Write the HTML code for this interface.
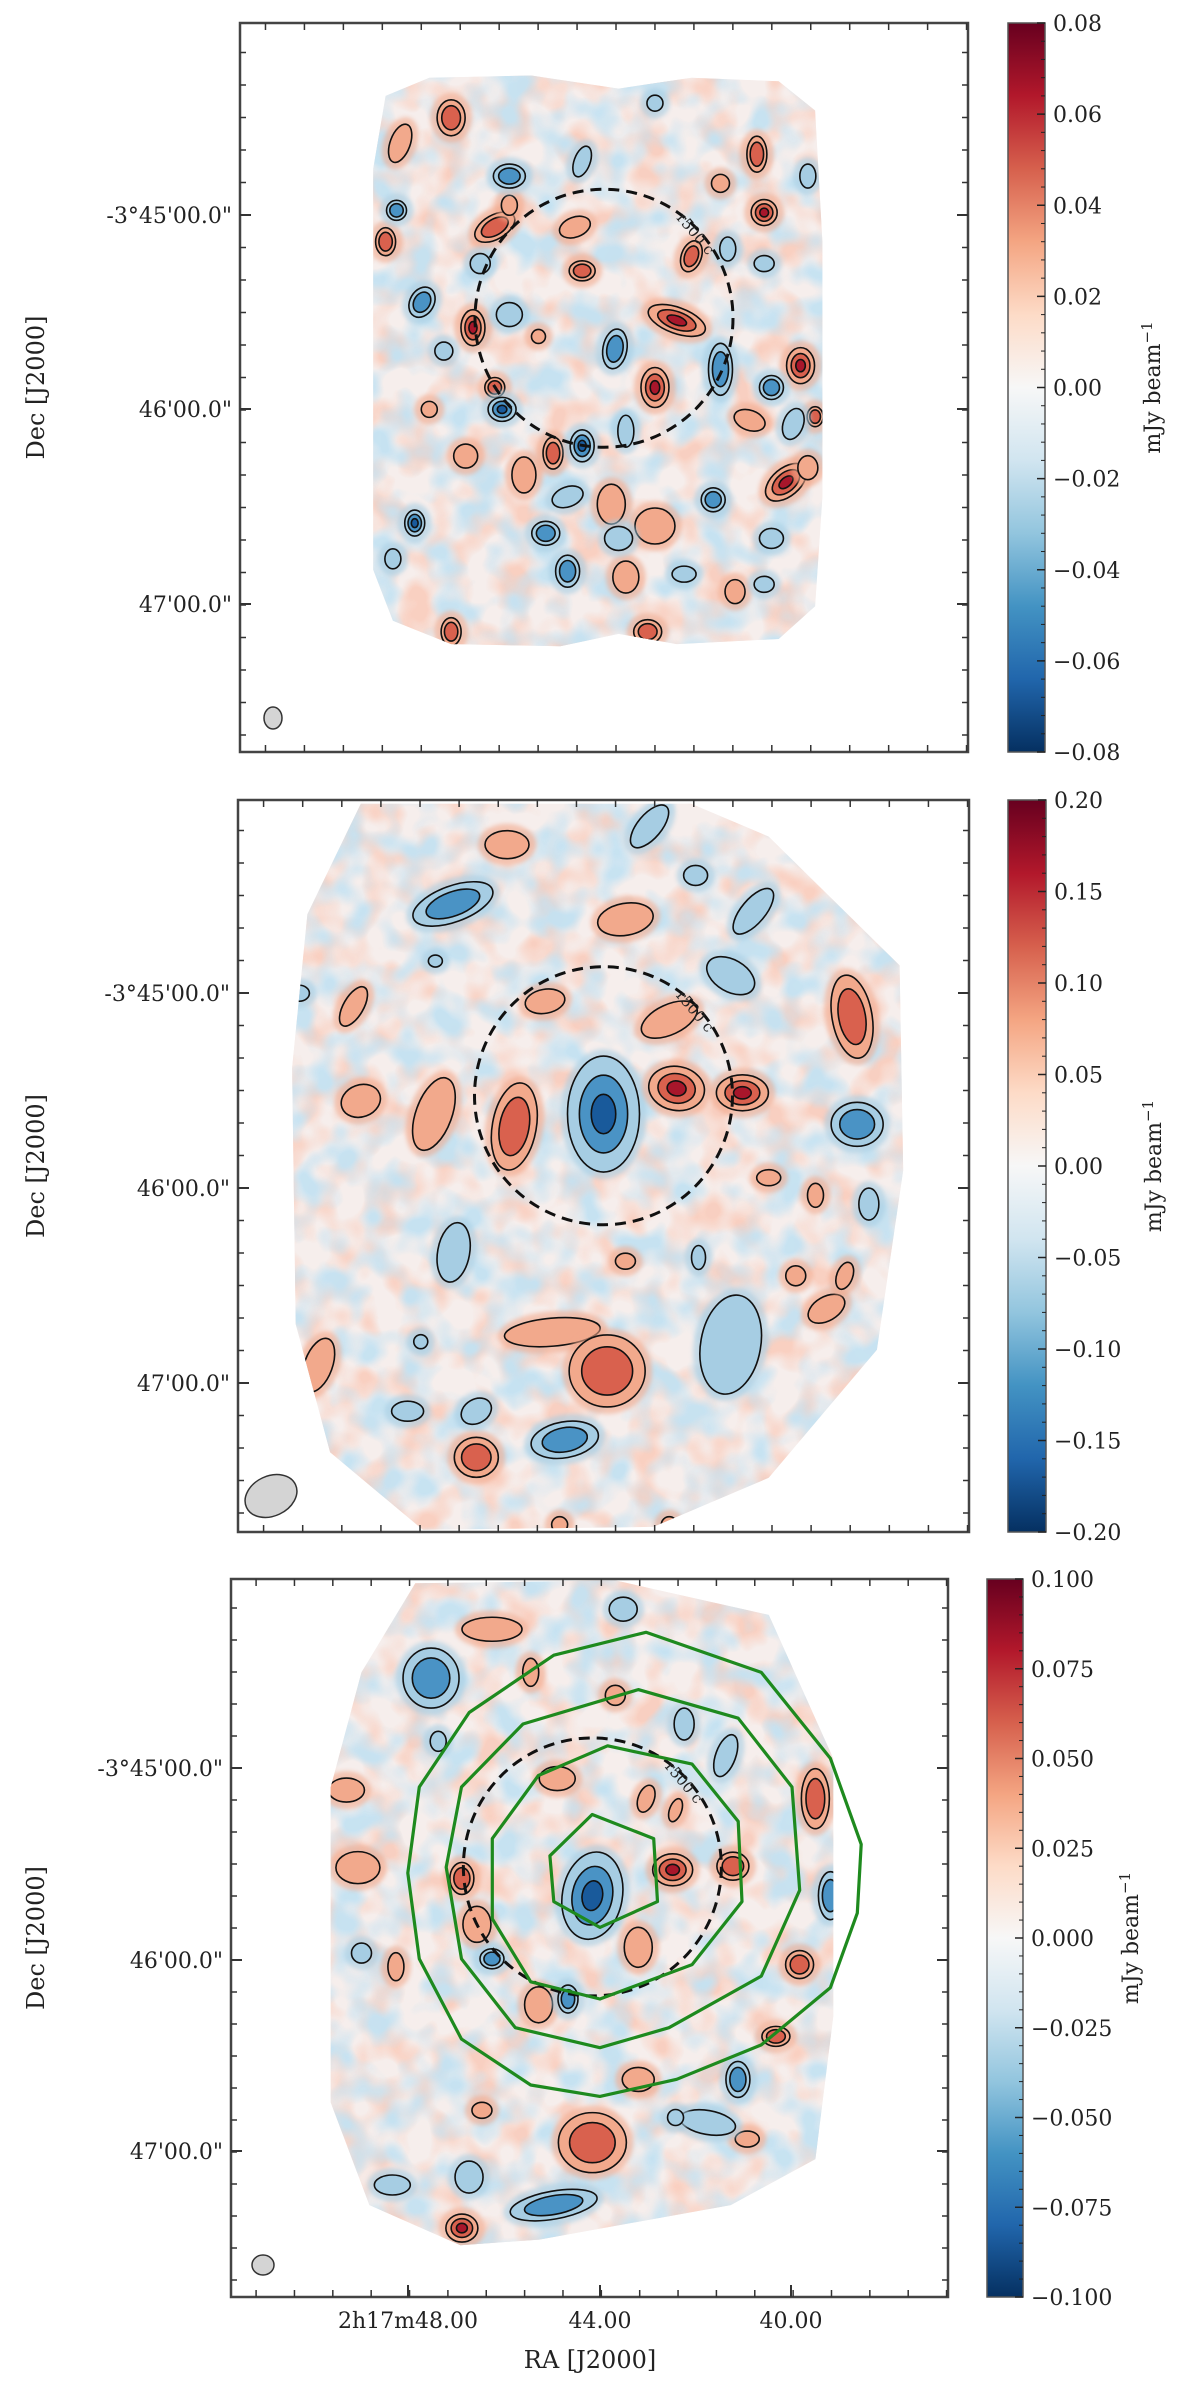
<!DOCTYPE html>
<html><head><meta charset="utf-8"><style>
html,body{margin:0;padding:0;background:#fff;}
svg{display:block;}
text{font-family:"DejaVu Serif","Liberation Serif",serif;fill:#222;}
</style></head><body>
<svg id="fig" width="1200" height="2394" viewBox="0 0 1200 2394" xmlns="http://www.w3.org/2000/svg">
<defs>
<linearGradient id="rdbu" x1="0" y1="1" x2="0" y2="0">
<stop offset="0" stop-color="#053061"/><stop offset="0.1" stop-color="#2166ac"/><stop offset="0.2" stop-color="#4393c3"/><stop offset="0.3" stop-color="#92c5de"/><stop offset="0.4" stop-color="#d1e5f0"/><stop offset="0.5" stop-color="#f7f7f7"/><stop offset="0.6" stop-color="#fddbc7"/><stop offset="0.7" stop-color="#f4a582"/><stop offset="0.8" stop-color="#d6604d"/><stop offset="0.9" stop-color="#b2182b"/><stop offset="1" stop-color="#67001f"/>
</linearGradient>
<filter id="tex1" x="0" y="0" width="100%" height="100%"><feTurbulence type="fractalNoise" baseFrequency="0.03" numOctaves="2" seed="3"/><feColorMatrix type="matrix" values="0 0 0 0 0.95  0 0 0 0 0.62  0 0 0 0 0.52  3.2 0 0 0 -1.35"/></filter>
<filter id="tex2" x="0" y="0" width="100%" height="100%"><feTurbulence type="fractalNoise" baseFrequency="0.03" numOctaves="2" seed="11"/><feColorMatrix type="matrix" values="0 0 0 0 0.55  0 0 0 0 0.76  0 0 0 0 0.89  3.2 0 0 0 -1.35"/></filter>
<filter id="soft"><feGaussianBlur stdDeviation="2"/></filter>
</defs>
</svg>
<script>
// ---- data arrays (fractions of the frame, px radii, rotation deg, contour level) ----
const panel1Blobs = [
[0.60,0.408,30,13,20,3],[0.32,0.418,12,18,0,3],[0.77,0.47,14,18,0,3],[0.57,0.50,14,20,0,3],[0.75,0.63,24,14,-40,3],
[0.72,0.26,13,13,0,3],[0.35,0.28,22,12,-30,2],[0.46,0.28,16,10,-20,1],[0.62,0.32,10,16,20,2],[0.47,0.34,13,10,0,2],
[0.20,0.30,10,14,0,2],[0.22,0.165,10,20,20,1],[0.71,0.18,10,18,0,2],[0.35,0.50,10,10,0,2],[0.43,0.59,10,16,0,2],
[0.39,0.62,12,18,0,1],[0.51,0.66,14,20,0,1],[0.57,0.69,20,18,0,1],[0.53,0.76,13,16,0,1],[0.29,0.835,10,14,0,2],
[0.68,0.78,10,12,0,1],[0.70,0.545,16,10,20,1],[0.79,0.54,8,10,0,2],[0.78,0.61,10,12,0,1],[0.31,0.594,12,12,0,1],
[0.37,0.25,8,10,0,1],[0.56,0.835,14,12,0,2],[0.26,0.53,8,8,0,1],[0.41,0.43,7,7,0,1],[0.66,0.22,9,9,0,1],
[0.29,0.13,14,18,0,2],[0.37,0.21,16,12,0,-2],[0.47,0.19,8,16,20,-1],[0.215,0.257,10,10,0,-2],[0.25,0.383,12,16,30,-2],
[0.37,0.40,13,12,0,-1],[0.515,0.447,12,20,10,-2],[0.66,0.475,12,26,0,-2],[0.73,0.50,12,12,0,-2],[0.36,0.53,14,12,0,-3],
[0.47,0.58,12,16,0,-3],[0.53,0.56,8,16,0,-1],[0.76,0.55,10,16,20,-1],[0.65,0.654,12,12,0,-2],[0.45,0.65,16,10,-20,-1],
[0.24,0.686,10,13,0,-3],[0.42,0.70,14,12,0,-2],[0.52,0.707,14,12,0,-1],[0.73,0.707,12,10,0,-1],[0.45,0.752,12,16,0,-2],
[0.61,0.756,12,8,0,-1],[0.72,0.77,10,8,0,-1],[0.21,0.735,8,10,0,-1],[0.78,0.21,8,12,0,-1],[0.57,0.11,8,8,0,-1],
[0.67,0.31,8,12,0,-1],[0.33,0.33,10,10,0,-1],[0.72,0.33,10,8,0,-1],[0.28,0.45,9,9,0,-1]
];
const panel2Blobs = [
[0.50,0.429,36,58,0,-3],[0.60,0.394,28,22,10,3],[0.69,0.40,26,18,0,3],[0.378,0.446,22,44,10,2],[0.268,0.429,18,38,20,1],
[0.168,0.411,20,16,-20,1],[0.59,0.30,30,15,-25,1],[0.42,0.275,20,12,-10,1],[0.84,0.296,20,42,-10,2],[0.53,0.163,28,16,-10,1],
[0.368,0.061,22,14,0,1],[0.158,0.282,10,22,30,1],[0.43,0.727,48,14,-5,1],[0.505,0.78,38,36,0,2],[0.805,0.695,20,12,-30,1],
[0.763,0.65,10,10,0,1],[0.326,0.898,22,20,0,2],[0.11,0.772,14,28,20,1],[0.726,0.516,12,8,0,1],[0.79,0.54,8,12,0,1],
[0.83,0.65,8,14,20,1],[0.44,0.99,8,8,0,1],[0.59,0.99,8,8,0,1],[0.53,0.63,10,8,0,1],
[0.294,0.142,42,18,-20,-2],[0.563,0.036,12,26,40,-1],[0.705,0.152,12,28,40,-1],[0.626,0.103,12,10,0,-1],[0.674,0.24,26,16,30,-1],
[0.847,0.443,26,22,0,-2],[0.295,0.618,16,30,10,-1],[0.674,0.744,30,50,10,-1],[0.447,0.874,34,18,-10,-2],[0.232,0.835,16,10,0,-1],
[0.326,0.835,16,12,-30,-1],[0.863,0.552,10,16,0,-1],[0.084,0.264,10,8,0,-1],[0.27,0.22,7,6,0,-1],[0.63,0.625,7,12,0,-1],[0.25,0.74,7,7,0,-1]
];
const panel3Blobs = [
[0.504,0.441,30,44,10,-3],[0.616,0.405,20,16,0,3],[0.70,0.40,16,14,0,2],[0.455,0.278,18,12,0,1],[0.579,0.306,8,14,20,1],
[0.62,0.322,6,12,20,1],[0.177,0.402,22,16,0,1],[0.161,0.294,18,12,0,1],[0.322,0.417,12,16,0,2],[0.343,0.481,14,18,0,1],
[0.364,0.07,30,12,0,1],[0.568,0.513,14,20,0,1],[0.815,0.306,14,30,0,2],[0.793,0.537,14,14,0,2],[0.429,0.593,14,18,0,1],
[0.504,0.785,34,30,0,2],[0.568,0.697,16,12,0,1],[0.76,0.637,14,10,0,2],[0.322,0.904,16,14,0,3],[0.418,0.13,8,14,0,1],
[0.536,0.162,10,10,0,1],[0.35,0.74,10,8,0,1],[0.23,0.54,8,14,0,1],[0.72,0.78,12,8,0,1],
[0.279,0.138,28,30,0,-2],[0.547,0.042,14,12,0,-1],[0.632,0.202,10,16,0,-1],[0.69,0.246,10,22,20,-1],[0.836,0.441,12,24,0,-2],
[0.707,0.697,12,18,0,-2],[0.665,0.757,28,12,10,-1],[0.45,0.872,44,14,-10,-2],[0.332,0.833,14,16,0,-1],[0.225,0.844,18,10,0,-1],
[0.364,0.529,12,10,0,-2],[0.47,0.585,10,14,0,-2],[0.289,0.226,8,10,0,-1],[0.182,0.521,10,10,0,-1],[0.62,0.75,8,8,0,-1]
];
const panel1Foot = [[0.20,0.10],[0.26,0.075],[0.40,0.072],[0.52,0.09],[0.62,0.075],[0.74,0.08],[0.79,0.12],[0.80,0.3],[0.80,0.65],[0.79,0.8],[0.74,0.845],[0.60,0.852],[0.52,0.838],[0.44,0.855],[0.29,0.852],[0.21,0.82],[0.183,0.75],[0.183,0.2]];
const panel2Foot = [[0.168,0.005],[0.62,0.005],[0.726,0.05],[0.905,0.226],[0.91,0.506],[0.874,0.751],[0.726,0.926],[0.568,0.993],[0.253,0.997],[0.126,0.891],[0.079,0.716],[0.074,0.366],[0.095,0.156]];
const panel3Foot = [[0.257,0.006],[0.536,0.002],[0.75,0.05],[0.84,0.25],[0.84,0.609],[0.815,0.808],[0.697,0.872],[0.43,0.92],[0.32,0.928],[0.193,0.872],[0.139,0.729],[0.139,0.29],[0.182,0.13]];
const greenC1 = [[770,548],[850,590],[855,700],[780,745],[720,700],[715,620]];
const greenC2 = [[790,428],[900,460],[960,560],[965,700],[900,810],[780,870],[690,840],[640,730],[640,590],[700,480]];
const greenC3 = [[830,330],[960,380],[1030,500],[1040,680],[990,830],[870,920],[780,955],[670,920],[600,800],[580,640],[600,500],[680,390]];
const greenC4 = [[840,230],[990,300],[1080,450],[1120,600],[1115,720],[1080,850],[990,950],[880,1010],[780,1040],[690,1020],[600,940],[545,800],[530,650],[545,500],[610,370],[720,270]];
const cb1Ticks = ["0.08","0.06","0.04","0.02","0.00","\u22120.02","\u22120.04","\u22120.06","\u22120.08"];
const cb2Ticks = ["0.20","0.15","0.10","0.05","0.00","\u22120.05","\u22120.10","\u22120.15","\u22120.20"];
const cb3Ticks = ["0.100","0.075","0.050","0.025","0.000","\u22120.025","\u22120.050","\u22120.075","\u22120.100"];
const decLabels = ["-3\u00b045'00.0\"","46'00.0\"","47'00.0\""];
const raLabels = ["2h17m48.00","44.00","40.00"];

const NS="http://www.w3.org/2000/svg";
const fig=document.getElementById('fig');
function mk(tag,attrs,parent){const e=document.createElementNS(NS,tag);for(const k in attrs)e.setAttribute(k,attrs[k]);(parent||fig).appendChild(e);return e;}
const redC=["#f2a98c","#d9614e","#a8162b"], bluC=["#a6cde3","#4a93c5","#195a9b"];

function panel(idx,P){
  const g=mk('g',{});
  
  
  const fx=f=>P.L+f*P.W, fy=f=>P.T+f*P.H;
  const d=P.foot.map((p,i)=>(i?'L':'M')+fx(p[0]).toFixed(1)+' '+fy(p[1]).toFixed(1)).join(' ')+'Z';
  const cp=mk('clipPath',{id:'clip'+idx},g);
  mk('path',{d:d,'stroke-width':18,stroke:'#000','stroke-linejoin':'round'},cp);
  const mg=mk('g',{'clip-path':'url(#clip'+idx+')'},g);
  const foot=mk('path',{d:d,fill:'#f6eeec',stroke:'#f6eeec','stroke-width':18,'stroke-linejoin':'round'},mg);
  
  
  mk('rect',{x:P.L,y:P.T,width:P.W,height:P.H,filter:'url(#tex1)',opacity:0.95},mg);
  mk('rect',{x:P.L,y:P.T,width:P.W,height:P.H,filter:'url(#tex2)',opacity:0.95},mg);
  P.blobs.forEach(b=>{
    const lv=Math.abs(b[5]), cols=b[5]>0?redC:bluC;
    const bg=mk('g',{transform:`rotate(${b[4]} ${fx(b[0])} ${fy(b[1])})`},mg);
    
    
    mk('ellipse',{cx:fx(b[0]),cy:fy(b[1]),rx:b[2]+7,ry:b[3]+7,fill:cols[0],opacity:0.6,filter:'url(#soft)'},bg);
    for(let k=0;k<lv;k++){
      const s=1-k*0.33;
      mk('ellipse',{cx:fx(b[0]),cy:fy(b[1]),rx:b[2]*s,ry:b[3]*s,fill:cols[k],stroke:'#111','stroke-width':1.6},bg);
    }
  });
  return {g,fx,fy};
}
function frame(P,name){
  const r=mk('rect',{x:P.L,y:P.T,width:P.W,height:P.H,fill:'none',stroke:'#444','stroke-width':2.5});
  
  
  for(let x=P.L+P.W*0.035;x<P.L+P.W;x+=P.W*0.0535){
    mk('line',{x1:x,y1:P.T+P.H,x2:x,y2:P.T+P.H-7,stroke:'#333','stroke-width':1.5});
    mk('line',{x1:x,y1:P.T,x2:x,y2:P.T+7,stroke:'#333','stroke-width':1.5});
  }
  for(let y=P.decY[0]-6*P.step;y<P.T+P.H;y+=P.step){
    if(y<P.T)continue;
    mk('line',{x1:P.L,y1:y,x2:P.L+6,y2:y,stroke:'#333','stroke-width':1.5});
    mk('line',{x1:P.L+P.W,y1:y,x2:P.L+P.W-6,y2:y,stroke:'#333','stroke-width':1.5});
  }
  P.decY.forEach((y,i)=>{
    mk('line',{x1:P.L,y1:y,x2:P.L+11,y2:y,stroke:'#333','stroke-width':2});
    mk('line',{x1:P.L+P.W,y1:y,x2:P.L+P.W-11,y2:y,stroke:'#333','stroke-width':2});
    const t=mk('text',{x:P.L-8,y:y+8,'text-anchor':'end','font-size':22});
    t.textContent=decLabels[i];
    
    
  });
  const yl=mk('text',{x:0,y:0,'text-anchor':'middle','font-size':24,transform:`translate(44 ${P.T+P.H/2}) rotate(-90)`});
  yl.textContent='Dec [J2000]';
  
  
}
function colorbar(P,ticks,name){
  const cb=mk('rect',{x:P.cx,y:P.T,width:P.cw,height:P.H,fill:'url(#rdbu)',stroke:'#555','stroke-width':1.5});
  
  
  ticks.forEach((s,i)=>{
    const y=P.T+i*P.H/(ticks.length-1);
    mk('line',{x1:P.cx+P.cw,y1:y,x2:P.cx+P.cw-8,y2:y,stroke:'#222','stroke-width':1.5});
    const t=mk('text',{x:P.cx+P.cw+8,y:y+8,'font-size':22});
    t.textContent=s;
    
    
  });
  for(let k=0;k<=40;k++){const y=P.T+k*P.H/40;mk('line',{x1:P.cx+P.cw,y1:y,x2:P.cx+P.cw-4,y2:y,stroke:'#222','stroke-width':1});}
  const lab=mk('text',{x:0,y:0,'text-anchor':'middle','font-size':22,transform:`translate(${P.cx+P.cw+115} ${P.T+P.H/2}) rotate(-90)`});
  lab.innerHTML='mJy beam<tspan font-size="15" dy="-8">\u22121</tspan>';
  
  
}
function circle(P,fx,fy,cx,cy){
  const c=mk('circle',{cx:fx(cx),cy:fy(cy),r:129,fill:'none',stroke:'#111','stroke-width':3,'stroke-dasharray':'11 7'});
  
  
  const x=fx(cx)+72,y=fy(cy)-100;
  const t=mk('text',{x:x,y:y,'font-size':15,transform:`rotate(50 ${x} ${y})`,fill:'#333'});
  t.textContent='r500 c';
  
  
}
function beam(x,y,rx,ry,rot){
  const b=mk('ellipse',{cx:x,cy:y,rx:rx,ry:ry,transform:`rotate(${rot} ${x} ${y})`,fill:'#d4d4d4',stroke:'#333','stroke-width':1.5});
  
  
}

// Panel 1
const P1={L:240,T:23,W:728,H:729,cx:1008,cw:37,foot:panel1Foot,blobs:panel1Blobs,decY:[215,409,604],step:32.5};
const r1=panel(1,P1); circle(P1,r1.fx,r1.fy,0.50,0.405); frame(P1,'panel1-frame'); colorbar(P1,cb1Ticks,'colorbar-1'); beam(273,718,9,11,0);
// Panel 2
const P2={L:238,T:800,W:731,H:732,cx:1008,cw:38,foot:panel2Foot,blobs:panel2Blobs,decY:[993,1188,1383],step:32.5};
const r2=panel(2,P2); circle(P2,r2.fx,r2.fy,0.50,0.404); frame(P2,'panel2-frame'); colorbar(P2,cb2Ticks,'colorbar-2'); beam(271,1496,27,20,-25);
// Panel 3
const P3={L:231,T:1579,W:717,H:718,cx:987,cw:36,foot:panel3Foot,blobs:panel3Blobs,decY:[1768,1960,2151],step:32};
const r3=panel(3,P3); circle(P3,r3.fx,r3.fy,0.504,0.401);
[greenC1,greenC2,greenC3,greenC4].forEach((c,i)=>{
  const pts=c.map(p=>(P3.L+(p[0]-300)/933*P3.W).toFixed(1)+','+(P3.T+(p[1]-137)/1253*P3.H).toFixed(1)).join(' ');
  const pl=mk('polygon',{points:pts,fill:'none',stroke:'#1e8a1e','stroke-width':3.2,'stroke-linejoin':'round'});
  
  
});
frame(P3,'panel3-frame'); colorbar(P3,cb3Ticks,'colorbar-3'); beam(263,2265,11,10,0);
[408,600,791].forEach((x,i)=>{
  mk('line',{x1:x,y1:P3.T+P3.H,x2:x,y2:P3.T+P3.H-12,stroke:'#333','stroke-width':2});
  const t=mk('text',{x:x,y:2328,'text-anchor':'middle','font-size':22});
  t.textContent=raLabels[i];
  
  
});
const xt=mk('text',{x:590,y:2368,'text-anchor':'middle','font-size':24});
xt.textContent='RA [J2000]';


</script>
</body></html>
